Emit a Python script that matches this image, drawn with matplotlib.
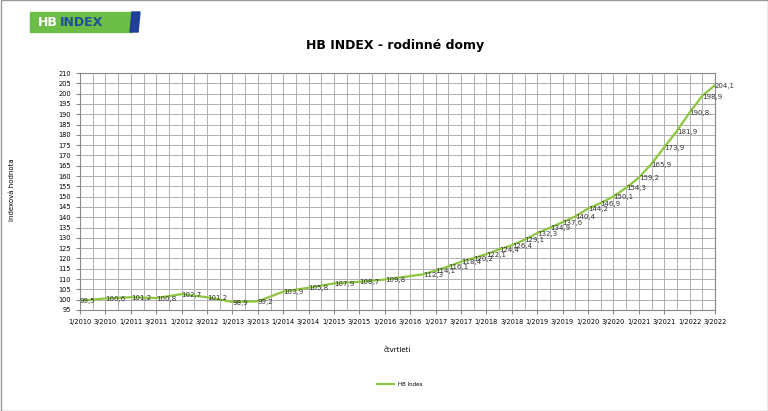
import matplotlib
matplotlib.use("Agg")
import matplotlib.pyplot as plt
from matplotlib.patches import Rectangle, Polygon

quarters = [0, 2, 4, 6, 8, 10, 12, 14, 16, 18, 20, 22, 24,
            27, 28, 29, 30, 31, 32, 33, 34, 35, 36, 37, 38, 39, 40,
            41, 42, 43, 44, 45, 46, 47, 48, 49, 50]
values = [99.5, 100.6, 101.2, 100.8, 102.7, 101.2, 98.9, 99.2, 103.9, 105.8, 107.9, 108.7, 109.8,
          112.3, 114.1, 116.1, 118.4, 120.2, 122.1, 124.4, 126.4, 129.1, 132.3, 134.9, 137.6, 140.4, 144.2,
          146.9, 150.1, 154.3, 159.2, 165.9, 173.9, 181.9, 190.8, 198.9, 204.1]
tick_labels = [f"{'1' if (i // 2) % 2 == 0 else '3'}/{2010 + i // 4}" for i in range(0, 51, 2)]

W, H = 768, 411
fig = plt.figure(figsize=(W/100, H/100), dpi=100)
ax = fig.add_axes([80/W, 1-310/H, (715-80)/W, (310-73)/H])

ax.plot(quarters, values, color="#8cc63f", lw=1.6, label="HB Index", zorder=2)
for x, v in zip(quarters, values):
    ax.annotate(f"{v:.1f}".replace(".", ","), (x, v), xytext=(0, -0.5), textcoords="offset points",
                fontsize=5, color="#333333", ha="left", va="center", zorder=3)

ax.set_xlim(0, 50)
ax.set_ylim(95, 210)
ax.set_yticks(range(95, 211, 5))
ax.set_xticks(range(0, 51, 2))
ax.set_xticklabels(tick_labels)
ax.set_xticks(range(0, 51, 1), minor=True)
ax.tick_params(axis="both", labelsize=4.8, length=3, color="#888888")
ax.tick_params(axis="x", which="minor", length=0)
ax.grid(True, which="both", color="#b0b0b0", lw=0.7, zorder=0)
for s in ax.spines.values():
    s.set_color("#888888")

fig.text(395/W, 1-45/H, "HB INDEX - rodinné domy", ha="center", va="center", fontsize=9, fontweight="bold")
fig.text(12/W, 1-190/H, "indexová hodnota", rotation=90, ha="center", va="center", fontsize=5)
fig.text(397/W, 1-350/H, "čtvrtletí", ha="center", va="center", fontsize=5)
fig.legend(loc="center", bbox_to_anchor=(400/W, 1-384/H), fontsize=4, frameon=False, handlelength=3)

# logo
fig.patches.append(Rectangle((30/W, 1-32/H), 102/W, 20/H, transform=fig.transFigure, color="#6cbd45"))
fig.patches.append(Polygon([(132/W, 1-12/H), (140/W, 1-12/H), (138/W, 1-32/H), (130/W, 1-32/H)],
                           transform=fig.transFigure, color="#1f3f9a"))
fig.text(38/W, 1-22/H, "HB", color="white", fontsize=9, fontweight="bold", va="center")
fig.text(60/W, 1-22/H, "INDEX", color="#1f4f9a", fontsize=9, fontweight="bold", va="center")
fig.patches.append(Rectangle((0.5/W, 0.5/H), 1-1/W, 1-1/H, transform=fig.transFigure,
                             fill=False, ec="#999999", lw=1))

fig.savefig("out.png", dpi=100)
